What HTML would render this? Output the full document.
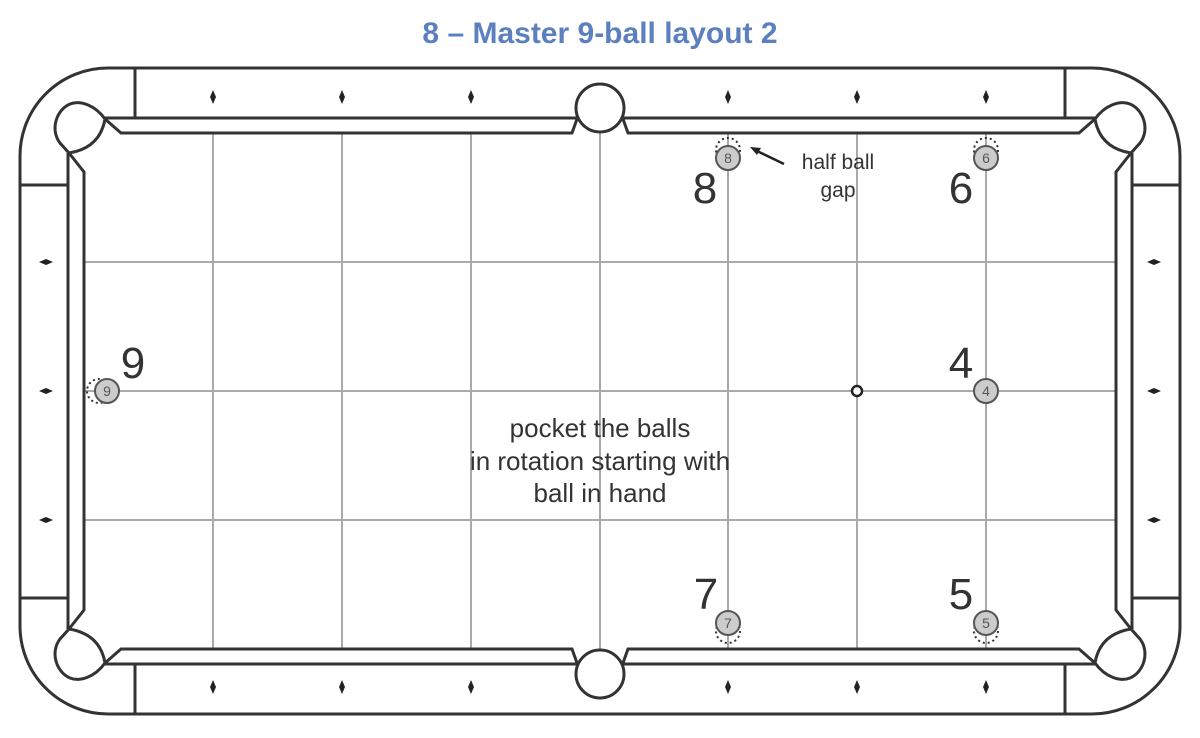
<!DOCTYPE html>
<html><head><style>
body{margin:0;background:#fff;width:1200px;height:733px;overflow:hidden}
</style></head><body>
<svg width="1200" height="733" viewBox="0 0 1200 733" xmlns="http://www.w3.org/2000/svg" font-family="Liberation Sans, sans-serif">
<text x="600" y="43" text-anchor="middle" font-size="30" font-weight="bold" fill="#5b7fbf">8 – Master 9-ball layout 2</text>
<!-- outer rail -->
<rect x="20" y="68" width="1160" height="646" rx="88" fill="none" stroke="#333" stroke-width="3"/>
<!-- grid -->
<g stroke="#aaa" stroke-width="2">
<line x1="213" y1="133" x2="213" y2="649"/><line x1="342" y1="133" x2="342" y2="649"/><line x1="471" y1="133" x2="471" y2="649"/><line x1="600" y1="133" x2="600" y2="649"/><line x1="728" y1="133" x2="728" y2="649"/><line x1="857" y1="133" x2="857" y2="649"/><line x1="986" y1="133" x2="986" y2="649"/>
<line x1="85" y1="262" x2="1115" y2="262"/><line x1="85" y1="391" x2="1115" y2="391"/><line x1="85" y1="520" x2="1115" y2="520"/>
</g>
<g fill="none" stroke="#333" stroke-width="3">
<line x1="105" y1="118" x2="577" y2="118"/><line x1="623" y1="118" x2="1095" y2="118"/>
<line x1="105" y1="664" x2="577" y2="664"/><line x1="623" y1="664" x2="1095" y2="664"/>
<line x1="68" y1="153" x2="68" y2="629"/><line x1="1132" y1="153" x2="1132" y2="629"/>
<path d="M105,119 L121,133 L572,133 L577,119"/><path d="M623,119 L628,133 L1079,133 L1095,119"/>
<path d="M105,663 L121,649 L572,649 L577,663"/><path d="M623,663 L628,649 L1079,649 L1095,663"/>
<path d="M69,153 L84,172 L84,610 L69,629"/><path d="M1131,153 L1116,172 L1116,610 L1131,629"/>
<line x1="135" y1="68" x2="135" y2="118"/><line x1="1065" y1="68" x2="1065" y2="118"/>
<line x1="135" y1="664" x2="135" y2="714"/><line x1="1065" y1="664" x2="1065" y2="714"/>
<line x1="20" y1="185" x2="68" y2="185"/><line x1="20" y1="598" x2="68" y2="598"/>
<line x1="1132" y1="185" x2="1180" y2="185"/><line x1="1132" y1="598" x2="1180" y2="598"/>
</g>
<g fill="#fff" stroke="#333" stroke-width="3">
<path d="M105,119 C95,105 80,100 70,104 C56,110 50,130 60,143 L69,153 Q100,148 105,119 Z"/>
<path transform="translate(1200,0) scale(-1,1)" d="M105,119 C95,105 80,100 70,104 C56,110 50,130 60,143 L69,153 Q100,148 105,119 Z"/>
<path transform="translate(0,782) scale(1,-1)" d="M105,119 C95,105 80,100 70,104 C56,110 50,130 60,143 L69,153 Q100,148 105,119 Z"/>
<path transform="translate(1200,782) scale(-1,-1)" d="M105,119 C95,105 80,100 70,104 C56,110 50,130 60,143 L69,153 Q100,148 105,119 Z"/>
<circle cx="600" cy="108" r="24"/>
<circle cx="600" cy="674" r="24"/>
</g>
<g fill="#222">
<path d="M213,90 l3,7 l-3,7 l-3,-7z"/><path d="M342,90 l3,7 l-3,7 l-3,-7z"/><path d="M471,90 l3,7 l-3,7 l-3,-7z"/>
<path d="M728,90 l3,7 l-3,7 l-3,-7z"/><path d="M857,90 l3,7 l-3,7 l-3,-7z"/><path d="M986,90 l3,7 l-3,7 l-3,-7z"/>
<path d="M213,680 l3,7 l-3,7 l-3,-7z"/><path d="M342,680 l3,7 l-3,7 l-3,-7z"/><path d="M471,680 l3,7 l-3,7 l-3,-7z"/>
<path d="M728,680 l3,7 l-3,7 l-3,-7z"/><path d="M857,680 l3,7 l-3,7 l-3,-7z"/><path d="M986,680 l3,7 l-3,7 l-3,-7z"/>
<path d="M39,262 l7,-3 l7,3 l-7,3z"/><path d="M39,391 l7,-3 l7,3 l-7,3z"/><path d="M39,520 l7,-3 l7,3 l-7,3z"/>
<path d="M1147,262 l7,-3 l7,3 l-7,3z"/><path d="M1147,391 l7,-3 l7,3 l-7,3z"/><path d="M1147,520 l7,-3 l7,3 l-7,3z"/>
</g>
<g fill="none" stroke="#333" stroke-width="2" stroke-dasharray="2,3">
<circle cx="728" cy="150" r="12"/><circle cx="986" cy="150" r="12"/>
<circle cx="99" cy="391" r="12"/>
<circle cx="728" cy="631" r="12"/><circle cx="986" cy="631" r="12"/>
</g>
<g fill="#ccc" stroke="#555" stroke-width="2">
<circle cx="728" cy="158" r="12"/><circle cx="986" cy="158" r="12"/>
<circle cx="107" cy="391" r="12"/><circle cx="986" cy="391" r="12"/>
<circle cx="728" cy="623" r="12"/><circle cx="986" cy="623" r="12"/>
</g>
<g font-size="14" fill="#555" text-anchor="middle">
<text x="728" y="163">8</text><text x="986" y="163">6</text><text x="107" y="396">9</text>
<text x="986" y="396">4</text><text x="728" y="628">7</text><text x="986" y="628">5</text>
</g>
<circle cx="857" cy="391" r="5" fill="#fff" stroke="#222" stroke-width="2.5"/>
<g font-size="44" fill="#333" text-anchor="middle">
<text x="705" y="203">8</text><text x="961" y="203">6</text>
<text x="133" y="378">9</text><text x="961" y="378">4</text>
<text x="706" y="609">7</text><text x="961" y="609">5</text>
</g>
<line x1="784" y1="164" x2="755" y2="150" stroke="#222" stroke-width="2.5"/>
<path d="M750,147 l11,1 l-4,7z" fill="#222"/>
<g font-size="21" fill="#333" text-anchor="middle">
<text x="838" y="169">half ball</text><text x="838" y="197">gap</text>
</g>
<g font-size="26" fill="#333" text-anchor="middle">
<text x="600" y="437">pocket the balls</text>
<text x="600" y="470">in rotation starting with</text>
<text x="600" y="502">ball in hand</text>
</g>
</svg>
</body></html>
